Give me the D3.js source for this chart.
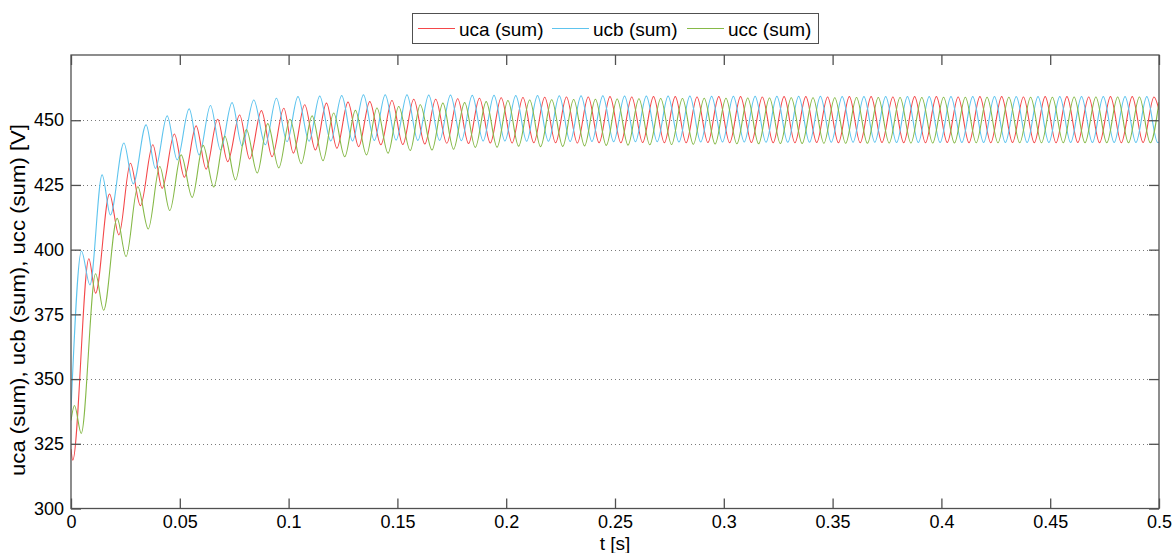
<!DOCTYPE html>
<html><head><meta charset="utf-8">
<script src="https://cdn.jsdelivr.net/npm/d3@7"></script>
<style>
html,body{margin:0;padding:0;background:#fff;}
svg{display:block;}
text{font-family:"Liberation Sans",Arial,sans-serif;fill:#000;}
</style></head><body>
<svg id="chart" width="1176" height="553"></svg>
<script>
// ---- data (time in ms, value in V), local extrema ----
const seriesNames = ["uca (sum)", "ucb (sum)", "ucc (sum)"];
const seriesColors = ["#f4484a", "#5ec4ee", "#86b948"];
const xTicks = [0, 0.05, 0.1, 0.15, 0.2, 0.25, 0.3, 0.35, 0.4, 0.45, 0.5];
const yTicks = [300, 325, 350, 375, 400, 425, 450];
const xTickLabels = ["0", "0.05", "0.1", "0.15", "0.2", "0.25", "0.3", "0.35", "0.4", "0.45", "0.5"];

const uca = [[0,323],[0.8,318.7],[8.2,396.5],[11.3,383.2],[17.7,421.5],[22.0,405.7],[27.3,433.4],[31.9,417.0],[37.6,440.5],[41.9,423.7],[47.5,444.7],[52.1,428.0],[57.5,447.8],[62.1,431.1],[67.4,450.4],[72.0,434.0],[77.5,452.0],[82.1,435.0],[87.5,453.7],[92.4,435.9],[97.8,454.6],[102.2,437.3],[107.4,456.0],[112.3,438.5],[117.4,456.6],[122.2,439.2],[127.3,457.0],[132.2,439.8],[137.3,457.2],[142.4,440.5],[147.5,457.6],[152.5,440.6],[157.5,458.1],[162.6,440.8],[167.6,458.1],[172.7,441.1],[177.7,458.3],[182.7,441.0],[187.7,458.5],[192.7,441.2],[197.7,458.7],[202.7,441.2],[207.7,458.8],[212.7,441.3],[217.7,458.9],[222.7,441.3],[227.7,459.0],[232.7,441.2],[237.7,459.0],[242.7,441.3],[247.7,459.1],[252.7,441.3],[257.7,459.0],[262.7,441.4],[267.7,459.1],[272.7,441.3],[277.7,459.1],[282.7,441.3],[287.7,459.0],[292.7,441.4],[297.7,459.1],[302.7,441.3],[307.7,459.1],[312.7,441.4],[317.7,459.0],[322.7,441.3],[327.7,459.1],[332.7,441.3],[337.7,459.1],[342.7,441.4],[347.7,459.0],[352.7,441.3],[357.7,459.1],[362.7,441.3],[367.7,459.1],[372.7,441.4],[377.7,459.0],[382.7,441.3],[387.7,459.1],[392.7,441.3],[397.7,459.1],[402.7,441.4],[407.7,459.0],[412.7,441.3],[417.7,459.1],[422.7,441.3],[427.7,459.1],[432.7,441.4],[437.7,459.0],[442.7,441.3],[447.7,459.1],[452.7,441.3],[457.7,459.1],[462.7,441.4],[467.7,459.0],[472.7,441.3],[477.7,459.1],[482.7,441.3],[487.7,459.1],[492.7,441.4],[497.7,459.0],[500,454.0]];

const ucb = [[0,338],[4.8,399.4],[8.7,386.4],[14.3,428.9],[18.1,413.4],[24.3,441.2],[28.6,425.4],[34.5,448.2],[38.8,431.4],[44.2,451.7],[48.8,434.7],[54.3,454.4],[58.9,436.6],[64.1,455.7],[68.7,438.5],[74.0,456.8],[78.6,440.1],[84.0,457.8],[89.3,440.5],[94.4,458.5],[99.3,441.7],[104.3,459.1],[109.4,441.9],[114.3,459.3],[119.4,442.0],[124.4,459.5],[129.4,442.0],[134.4,459.8],[139.4,442.2],[144.4,459.8],[149.4,442.3],[154.4,459.8],[159.4,442.2],[164.4,459.7],[169.4,442.2],[174.4,459.7],[179.4,442.1],[184.4,459.6],[189.4,442.0],[194.4,459.6],[199.4,442.0],[204.4,459.5],[209.4,441.9],[214.4,459.5],[219.4,441.9],[224.4,459.4],[229.4,441.8],[234.4,459.4],[239.4,441.8],[244.4,459.4],[249.4,441.7],[254.4,459.3],[259.4,441.7],[264.4,459.3],[269.4,441.7],[274.4,459.3],[279.4,441.6],[284.4,459.3],[289.4,441.6],[294.4,459.2],[299.4,441.6],[304.4,459.2],[309.4,441.6],[314.4,459.2],[319.4,441.5],[324.4,459.2],[329.4,441.5],[334.4,459.2],[339.4,441.5],[344.4,459.2],[349.4,441.5],[354.4,459.1],[359.4,441.5],[364.4,459.1],[369.4,441.5],[374.4,459.1],[379.4,441.4],[384.4,459.1],[389.4,441.4],[394.4,459.1],[399.4,441.4],[404.4,459.1],[409.4,441.4],[414.4,459.1],[419.4,441.4],[424.4,459.1],[429.4,441.4],[434.4,459.1],[439.4,441.4],[444.4,459.1],[449.4,441.4],[454.4,459.1],[459.4,441.4],[464.4,459.1],[469.4,441.4],[474.4,459.1],[479.4,441.4],[484.4,459.1],[489.4,441.4],[494.4,459.1],[499.4,441.4],[500,441.5]];

const ucc = [[0,334],[1.6,339.8],[4.7,329.0],[11.3,390.7],[15.0,376.6],[21.2,412.1],[25.3,397.3],[30.7,424.3],[35.5,408.0],[40.8,432.1],[45.4,415.1],[50.6,436.6],[55.7,420.2],[60.7,440.3],[65.6,424.2],[70.7,443.8],[75.6,426.9],[80.6,446.4],[85.6,429.6],[90.4,448.7],[95.5,431.6],[100.6,450.4],[105.8,433.2],[110.8,451.7],[115.8,434.4],[120.7,452.8],[125.8,435.9],[130.7,453.8],[135.8,436.6],[140.6,454.7],[145.7,437.3],[150.6,455.3],[155.9,438.3],[160.5,456.0],[165.9,438.5],[170.9,456.6],[175.8,438.8],[180.9,456.8],[185.8,439.5],[190.8,457.2],[195.8,439.6],[200.8,457.6],[205.7,440.0],[210.8,457.8],[215.8,439.8],[220.9,457.9],[226.0,439.9],[231.0,458.0],[236.0,440.1],[241.0,458.1],[246.0,440.3],[251.0,458.2],[256.0,440.4],[261.0,458.3],[266.0,440.5],[271.0,458.4],[276.0,440.6],[281.0,458.4],[286.0,440.7],[291.0,458.5],[296.0,440.8],[301.0,458.5],[306.0,440.9],[311.0,458.6],[316.0,440.9],[321.0,458.6],[326.0,441.0],[331.0,458.7],[336.0,441.0],[341.0,458.7],[346.0,441.1],[351.0,458.7],[356.0,441.1],[361.0,458.8],[366.0,441.1],[371.0,458.8],[376.0,441.2],[381.0,458.8],[386.0,441.2],[391.0,458.8],[396.0,441.2],[401.0,458.9],[406.0,441.2],[411.0,458.9],[416.0,441.3],[421.0,458.9],[426.0,441.3],[431.0,458.9],[436.0,441.3],[441.0,458.9],[446.0,441.3],[451.0,458.9],[456.0,441.3],[461.0,459.0],[466.0,441.3],[471.0,459.0],[476.0,441.3],[481.0,459.0],[486.0,441.3],[491.0,459.0],[496.0,441.3],[500,457.0]];

const allSeries = [uca, ucb, ucc];

// ---- layout ----
const L = 71, R = 1159, T = 55, B = 508.5;
const svg = d3.select("#chart");
const x = d3.scaleLinear().domain([0, 0.5]).range([L, R]);
const y = d3.scaleLinear().domain([300, 475.2]).range([B, T]);
const axisColor = "#505050";

// grid (horizontal dotted)
svg.append("g").selectAll("line").data(yTicks.filter(v => v > 300)).join("line")
  .attr("x1", L).attr("x2", R)
  .attr("y1", d => Math.round(y(d)) + 0.5).attr("y2", d => Math.round(y(d)) + 0.5)
  .attr("stroke", "#7a7a7a").attr("stroke-width", 1).attr("stroke-dasharray", "1,3");

// series
const line = d3.line().x(d => x(d[0] / 1000)).y(d => y(d[1])).curve(d3.curveMonotoneX);
svg.append("clipPath").attr("id", "clip").append("rect")
  .attr("x", L).attr("y", T).attr("width", R - L).attr("height", B - T);
svg.append("g").attr("clip-path", "url(#clip)").selectAll("path").data(allSeries).join("path")
  .attr("d", line).attr("fill", "none")
  .attr("stroke", (d, i) => seriesColors[i]).attr("stroke-width", 1.1);

// axes via d3 axis generators (inward ticks)
const tickLen = 10;
const fmtX = (d, i) => xTickLabels[i];
const gB = svg.append("g").attr("transform", `translate(0,${B})`)
  .call(d3.axisBottom(x).tickValues(xTicks).tickFormat(fmtX).tickSizeInner(-tickLen).tickSizeOuter(0).tickPadding(7));
const gT = svg.append("g").attr("transform", `translate(0,${T})`)
  .call(d3.axisTop(x).tickValues(xTicks).tickFormat("").tickSizeInner(-tickLen).tickSizeOuter(0));
const gL = svg.append("g").attr("transform", `translate(${L},0)`)
  .call(d3.axisLeft(y).tickValues(yTicks).tickFormat(d3.format("d")).tickSizeInner(-tickLen).tickSizeOuter(0).tickPadding(7));
const gR = svg.append("g").attr("transform", `translate(${R},0)`)
  .call(d3.axisRight(y).tickValues(yTicks).tickFormat("").tickSizeInner(-tickLen).tickSizeOuter(0));
[gB, gT, gL, gR].forEach(g => {
  g.select(".domain").remove();
  g.selectAll(".tick line").attr("stroke", axisColor).attr("stroke-width", 1.3);
  g.selectAll("text").attr("font-size", 18).attr("font-family", '"Liberation Sans",Arial,sans-serif').attr("fill", "#000");
});
gB.selectAll(".tick text").attr("dy", "0.71em");

// box
svg.append("rect").attr("x", L).attr("y", T).attr("width", R - L).attr("height", B - T)
  .attr("fill", "none").attr("stroke", axisColor).attr("stroke-width", 1.3);

// axis labels
svg.append("text").attr("x", (L + R) / 2).attr("y", 550).attr("text-anchor", "middle")
  .attr("font-size", 19).text("t [s]");
svg.append("text").attr("transform", "translate(25,300) rotate(-90)").attr("text-anchor", "middle")
  .attr("font-size", 20).attr("textLength", 352).attr("lengthAdjust", "spacingAndGlyphs")
  .text("uca (sum), ucb (sum), ucc (sum) [V]");

// legend
const lg = svg.append("g");
lg.append("rect").attr("x", 412.5).attr("y", 13.5).attr("width", 406).attr("height", 30)
  .attr("fill", "#fff").attr("stroke", axisColor).attr("stroke-width", 1);
const legX = [418, 552, 687];
seriesNames.forEach((n, i) => {
  lg.append("line").attr("x1", legX[i]).attr("x2", legX[i] + 37).attr("y1", 28.5).attr("y2", 28.5)
    .attr("stroke", seriesColors[i]).attr("stroke-width", 1.1);
  lg.append("text").attr("x", legX[i] + 41).attr("y", 35.5).attr("font-size", 19).text(n);
});
</script></body></html>
